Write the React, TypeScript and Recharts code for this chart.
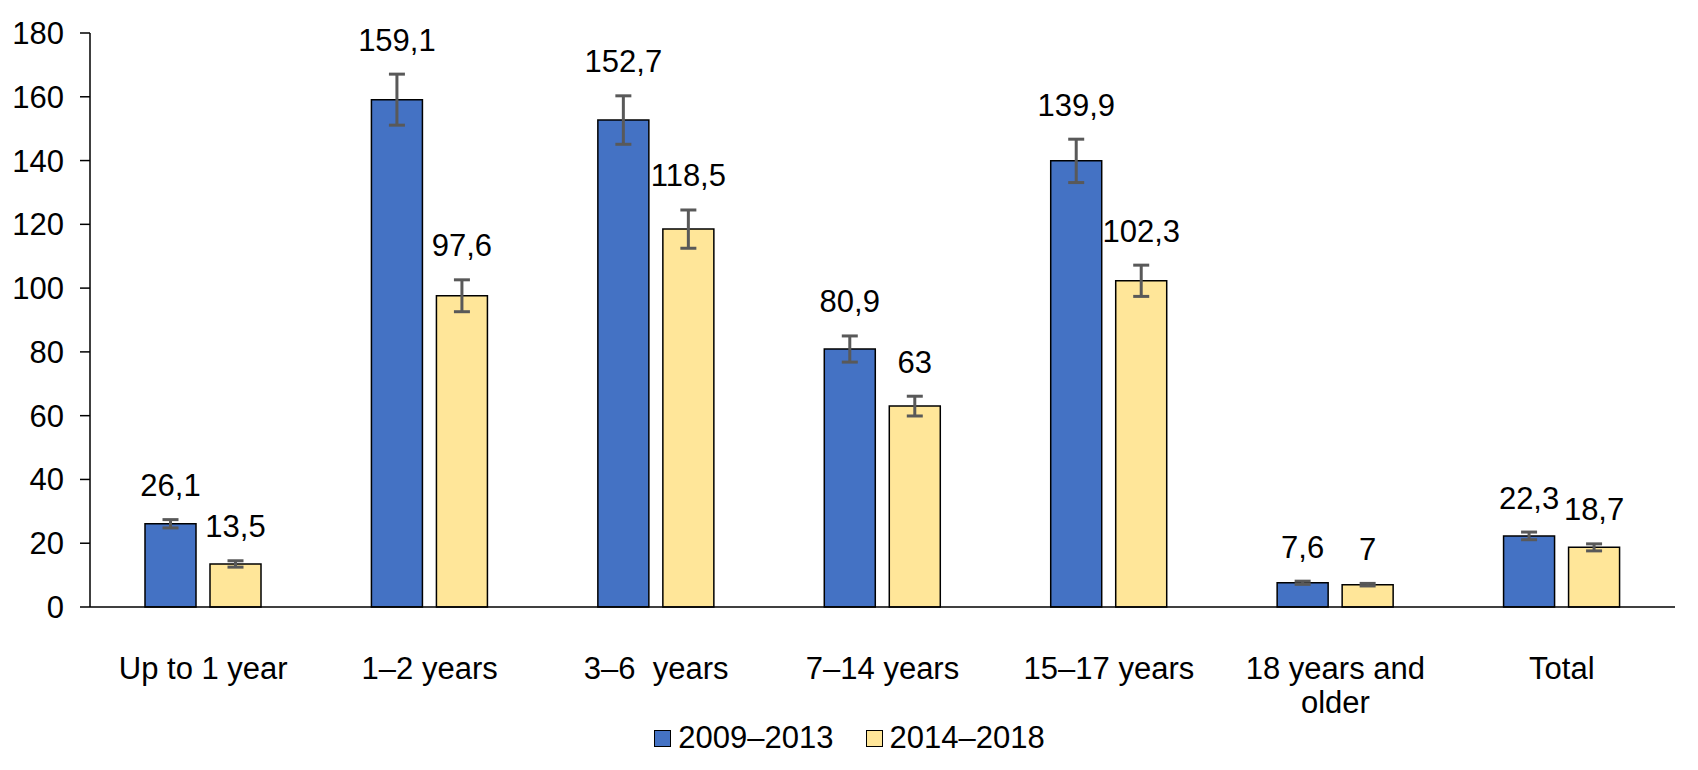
import { BarChart, Bar, XAxis, YAxis, ErrorBar, LabelList, Legend } from "recharts";

const categories = ["Up to 1 year", "1–2 years", "3–6  years", "7–14 years", "15–17 years", "18 years and older", "Total"];
const period1 = [26.1, 159.1, 152.7, 80.9, 139.9, 7.6, 22.3];
const period2 = [13.5, 97.6, 118.5, 63, 102.3, 7, 18.7];
const err1 = [1.3, 8, 7.6, 4.1, 6.8, 0.5, 1.2];
const err2 = [1, 5, 6, 3.1, 4.9, 0.4, 1.1];
const yTicks = [0, 20, 40, 60, 80, 100, 120, 140, 160, 180];
const seriesNames = ["2009–2013", "2014–2018"];

const FONT = "'Liberation Sans', Arial, sans-serif";
const FS = 31;

const data = categories.map((c, i) => ({
  category: c,
  p1: period1[i],
  p2: period2[i],
  e1: err1[i],
  e2: err2[i],
}));

const fmt = (v: number) => String(v).replace(".", ",");

// greedy wrap by characters, keeps double spaces
function wrap(text: string, max = 12) {
  const words = text.split(" ");
  const lines: string[] = [];
  let cur = "";
  words.forEach((w, i) => {
    const next = i === 0 ? w : cur + " " + w;
    if (next.length > max && cur.trim().length > 0) {
      lines.push(cur);
      cur = w;
    } else {
      cur = next;
    }
  });
  lines.push(cur);
  return lines;
}

const CategoryTick = (props: any) => {
  const { x, y, payload } = props;
  const lines = wrap(payload.value);
  return (
    <g transform={`translate(${x},${y})`}>
      {lines.map((l, i) => (
        <text
          key={i}
          x={0}
          y={72 + i * 34}
          textAnchor="middle"
          fontSize={FS}
          fontFamily={FONT}
          fill="#000"
          style={{ whiteSpace: "pre" }}
        >
          {l}
        </text>
      ))}
    </g>
  );
};

const makeLabel = (errs: number[]) => (props: any) => {
  const x = Number(props.x);
  const y = Number(props.y);
  const w = Number(props.width);
  const h = Number(props.height);
  const v = Number(props.value);
  const ppu = v ? h / v : 0;
  const top = y - errs[props.index] * ppu;
  return (
    <text
      x={x + w / 2}
      y={top - 34}
      textAnchor="middle"
      dominantBaseline="central"
      fontSize={FS}
      fontFamily={FONT}
      fill="#000"
    >
      {fmt(v)}
    </text>
  );
};

const LegendContent = (props: any) => {
  const items = props.payload || [];
  return (
    <div
      style={{
        height: 64,
        display: "flex",
        justifyContent: "center",
        alignItems: "center",
        paddingLeft: 24,
        fontFamily: FONT,
        fontSize: FS,
        color: "#000",
      }}
    >
      {items.map((it: any, i: number) => (
        <div key={i} style={{ display: "flex", alignItems: "center", marginLeft: i ? 32 : 0 }}>
          <span
            style={{
              display: "inline-block",
              width: 15,
              height: 15,
              background: it.color,
              border: "1px solid #000",
              marginRight: 7,
            }}
          />
          <span>{it.value}</span>
        </div>
      ))}
    </div>
  );
};

export default function App() {
  return (
    <div style={{ position: "absolute", left: 0, top: 0, background: "#fff", fontFamily: FONT }}>
      <BarChart
        width={1698}
        height={770}
        data={data}
        margin={{ top: 33, right: 23, left: 0, bottom: 0 }}
        barSize={51}
        barGap={14}
      >
        <XAxis
          dataKey="category"
          tick={<CategoryTick />}
          tickLine={false}
          tickSize={0}
          tickMargin={0}
          interval={0}
          height={99}
          axisLine={{ stroke: "#000", strokeWidth: 1.5 }}
        />
        <YAxis
          domain={[0, 180]}
          ticks={yTicks}
          width={90}
          tickSize={10}
          tickMargin={16}
          interval={0}
          axisLine={{ stroke: "#000", strokeWidth: 1.5 }}
          tickLine={{ stroke: "#000", strokeWidth: 1.5 }}
          tick={{ fontSize: FS, fontFamily: FONT, fill: "#000" }}
        />
        <Legend verticalAlign="bottom" content={<LegendContent />} />
        <Bar dataKey="p1" name={seriesNames[0]} fill="#4472C4" stroke="#000" strokeWidth={1.5} isAnimationActive={false}>
          <ErrorBar dataKey="e1" width={8} stroke="#595959" strokeWidth={3} isAnimationActive={false} />
          <LabelList dataKey="p1" content={makeLabel(err1)} />
        </Bar>
        <Bar dataKey="p2" name={seriesNames[1]} fill="#FFE699" stroke="#000" strokeWidth={1.5} isAnimationActive={false}>
          <ErrorBar dataKey="e2" width={8} stroke="#595959" strokeWidth={3} isAnimationActive={false} />
          <LabelList dataKey="p2" content={makeLabel(err2)} />
        </Bar>
      </BarChart>
    </div>
  );
}
